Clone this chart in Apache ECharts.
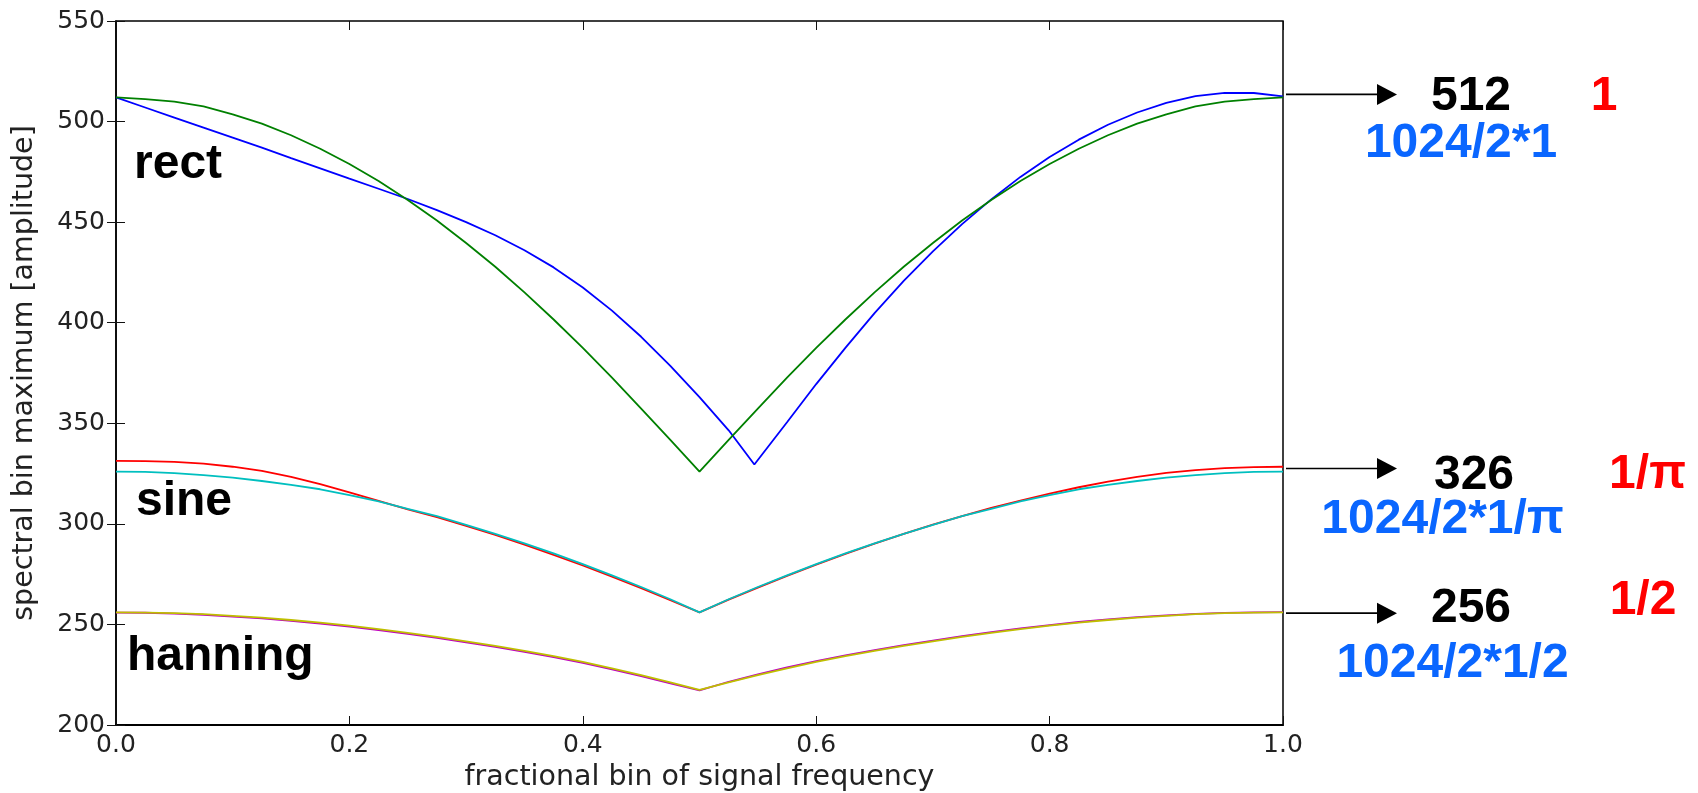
<!DOCTYPE html>
<html>
<head>
<meta charset="utf-8">
<script src="https://cdn.jsdelivr.net/npm/echarts@6/dist/echarts.min.js"></script>
<style>
html,body{margin:0;padding:0;background:#ffffff;}
#chart{width:1698px;height:793px;}
</style>
</head>
<body>
<div id="chart"></div>
<script>
// ---------- data ----------
const xs = [0,0.025,0.05,0.075,0.1,0.125,0.15,0.175,0.2,0.225,0.25,0.275,0.3,0.325,0.35,0.375,0.4,0.425,0.45,0.475,0.5,0.525,0.55,0.575,0.6,0.625,0.65,0.675,0.7,0.725,0.75,0.775,0.8,0.825,0.85,0.875,0.9,0.925,0.95,0.975,1.0];
const blueXs = [0,0.025,0.05,0.075,0.1,0.125,0.15,0.175,0.2,0.225,0.25,0.275,0.3,0.325,0.35,0.375,0.4,0.425,0.45,0.475,0.5,0.525,0.547,0.575,0.6,0.625,0.65,0.675,0.7,0.725,0.75,0.775,0.8,0.825,0.85,0.875,0.9,0.925,0.95,0.975,1.0];

const rectBlue = [512,507,502,497,492,487,481.8,476.7,471.6,466.6,461.5,456,450,443.5,436,427.5,417.5,406,393,378.5,363,346.5,329.5,350.5,369.5,387.5,404.8,420.8,435.5,449,461.3,472.5,482.4,491,498.4,504.5,509.3,512.6,514.3,514.2,512.5];
const rectGreen = [512,511.2,509.9,507.5,503.6,499,493.2,486.5,478.9,470.5,461,450.8,439.6,427.8,415.1,401.6,387.5,372.7,357.3,341.8,326,341.8,357.3,372.7,387.5,401.6,415.1,427.8,439.6,450.8,461,470.5,478.9,486.5,493.2,499,503.6,507.5,509.9,511.2,512];
const sineRed = [331.3,331.2,330.8,329.9,328.4,326.3,323.4,319.8,315.6,311.4,307.2,303.3,299,294.5,289.7,284.6,279.3,273.8,268,262,256,262.3,268.3,274.1,279.7,285.1,290.2,295,299.6,303.9,307.9,311.6,315,318.2,321,323.4,325.3,326.7,327.7,328.2,328.4];
const sineCyan = [326,325.8,325.2,324.2,323,321.3,319.4,317.2,314.3,311.2,307.5,303.8,299.5,295,290.3,285.3,280,274.4,268.6,262.5,256,262.5,268.6,274.4,280,285.3,290.3,295,299.5,303.8,307.5,311.2,314.3,317.2,319.4,321.3,323,324.2,325.2,325.8,326];
const hannMagenta = [255.9,255.8,255.4,254.8,253.9,253,251.8,250.4,248.9,247.2,245.3,243.3,241.1,238.8,236.3,233.7,230.9,227.7,224.3,220.7,217.2,221.5,225.2,228.6,231.8,234.6,237.2,239.7,242,244.2,246.2,248,249.7,251.2,252.5,253.6,254.5,255.2,255.7,256,256.1];
const hannYellow = [256,255.9,255.6,255.1,254.3,253.4,252.2,250.9,249.4,247.7,245.8,243.8,241.6,239.3,236.8,234.2,231.4,228.2,224.8,221.2,217.5,221.2,224.8,228.2,231.4,234.2,236.8,239.3,241.6,243.8,245.8,247.7,249.4,250.9,252.2,253.4,254.3,255.1,255.6,255.9,256];

const xTickLabels = ['0.0','0.2','0.4','0.6','0.8','1.0'];
const yTickLabels = ['200','250','300','350','400','450','500','550'];
const xTitle = 'fractional bin of signal frequency';
const yTitle = 'spectral bin maximum [amplitude]';

const windowNames = ['rect','sine','hanning'];
const arrowLevels = [513.5, 327.5, 255.6];
const levelTexts = ['512','326','256'];
const ratioTexts = ['1','1/\u03c0','1/2'];
const formulaTexts = ['1024/2*1','1024/2*1/\u03c0','1024/2*1/2'];

// ---------- chart ----------
const pairs = (xArr, yArr) => xArr.map((x, i) => [x, yArr[i]]);
const tickFont = { fontFamily: '"DejaVu Sans", sans-serif', fontSize: 25, color: '#222' };
const titleFont = { fontFamily: '"DejaVu Sans", sans-serif', fontSize: 28.5, color: '#222' };

function lineSeries(name, xArr, yArr, color) {
  return {
    name, type: 'line', data: pairs(xArr, yArr),
    showSymbol: false, symbol: 'none', smooth: false,
    lineStyle: { color, width: 1.8 }, itemStyle: { color },
    emphasis: { disabled: true }, animation: false
  };
}

const chart = echarts.init(document.getElementById('chart'), null, { renderer: 'canvas' });

const xMin = parseFloat(xTickLabels[0]), xMax = parseFloat(xTickLabels[xTickLabels.length - 1]);
const xInt = parseFloat(xTickLabels[1]) - xMin;
const yMin = +yTickLabels[0], yMax = +yTickLabels[yTickLabels.length - 1];
const yInt = +yTickLabels[1] - yMin;

const tickStyle = { show: true, inside: true, length: 9, lineStyle: { color: '#111', width: 1 } };

chart.setOption({
  animation: false,
  backgroundColor: '#ffffff',
  grid: { left: 116, right: 415, top: 21, bottom: 68, show: true, borderColor: '#000', borderWidth: 1.5, containLabel: false, outerBoundsMode: 'none' },
  xAxis: [
    {
      type: 'value', min: xMin, max: xMax, interval: xInt, position: 'bottom',
      name: xTitle, nameLocation: 'middle', nameGap: 37,
      nameTextStyle: titleFont,
      axisLine: { show: true, lineStyle: { color: '#000', width: 2 } },
      axisTick: tickStyle,
      axisLabel: Object.assign({ margin: 8, showMinLabel: true, showMaxLabel: true, hideOverlap: false,
        formatter: v => v.toFixed(1) }, tickFont),
      splitLine: { show: false }
    },
    {
      type: 'value', min: xMin, max: xMax, interval: xInt, position: 'top',
      axisLine: { show: false }, axisTick: tickStyle, axisLabel: { show: false }, splitLine: { show: false }
    }
  ],
  yAxis: [
    {
      type: 'value', min: yMin, max: yMax, interval: yInt, position: 'left',
      name: yTitle, nameLocation: 'middle', nameGap: 77,
      nameTextStyle: titleFont,
      axisLine: { show: true, lineStyle: { color: '#000', width: 1.5 } },
      axisTick: tickStyle,
      axisLabel: Object.assign({ margin: 11, showMinLabel: true, showMaxLabel: true, hideOverlap: false }, tickFont),
      splitLine: { show: false }
    },
    {
      type: 'value', min: yMin, max: yMax, interval: yInt, position: 'right',
      axisLine: { show: false }, axisTick: tickStyle, axisLabel: { show: false }, splitLine: { show: false }
    }
  ],
  series: [
    lineSeries('rect (b)', blueXs, rectBlue, '#0000ff'),
    lineSeries('rect (g)', xs, rectGreen, '#008000'),
    lineSeries('sine (r)', xs, sineRed, '#ff0000'),
    lineSeries('sine (c)', xs, sineCyan, '#00bfbf'),
    lineSeries('hanning (m)', xs, hannMagenta, '#bf00bf'),
    lineSeries('hanning (y)', xs, hannYellow, '#bfbf00')
  ]
});

// ---------- annotations ----------
const boldFont = 'bold 48px "Liberation Sans", Arial, sans-serif';
function txt(text, x, y, fill, align) {
  return { type: 'text', silent: true, z: 100, x: x, y: y,
    style: { text: text, fill: fill, font: boldFont, align: align || 'center', verticalAlign: 'middle',
             textAlign: align || 'center', textVerticalAlign: 'middle' } };
}
const graphics = [];
const dy = 3;
// window names inside the plot
const nameLayout = [[134, 162], [136, 499], [127, 654]];
windowNames.forEach((n, i) => graphics.push(txt(n, nameLayout[i][0], nameLayout[i][1] + dy, '#000', 'left')));

// arrows anchored to the curve end levels at x = 1.0
const labelLayout = [
  { lv: [1471, 93.5],  rt: [1604, 93.5],  fm: [1461, 140.5] },
  { lv: [1474, 472.7], rt: [1647.5, 471.3], fm: [1442.5, 517] },
  { lv: [1471, 605.3], rt: [1643, 597.5], fm: [1452.5, 660.5] }
];
arrowLevels.forEach((lvl, i) => {
  const p = chart.convertToPixel({ gridIndex: 0 }, [xMax, lvl]);
  const x0 = p[0] + 3, tip = p[0] + 114, ay = p[1];
  graphics.push({ type: 'line', silent: true, z: 100,
    shape: { x1: x0, y1: ay, x2: tip - 18, y2: ay }, style: { stroke: '#000', lineWidth: 1.6 } });
  graphics.push({ type: 'polygon', silent: true, z: 100,
    shape: { points: [[tip - 20, ay - 10.5], [tip, ay], [tip - 20, ay + 10.5]] }, style: { fill: '#000' } });
  const L = labelLayout[i];
  graphics.push(txt(levelTexts[i], L.lv[0], L.lv[1] + dy, '#000'));
  graphics.push(txt(ratioTexts[i], L.rt[0], L.rt[1] + dy, '#ff0000'));
  graphics.push(txt(formulaTexts[i], L.fm[0], L.fm[1] + dy, '#0a66ff'));
});
chart.setOption({ graphic: graphics });
</script>
</body>
</html>
